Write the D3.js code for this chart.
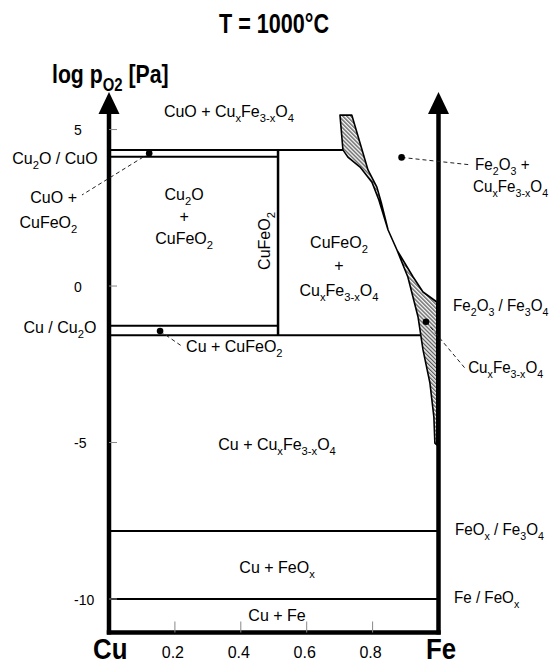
<!DOCTYPE html>
<html><head><meta charset="utf-8">
<script src="https://cdn.jsdelivr.net/npm/d3@7/dist/d3.min.js"></script>
<style>html,body{margin:0;padding:0;background:#fff;}svg{display:block;font-family:"Liberation Sans",Arial,sans-serif;}</style>
</head><body><div id="chart"></div>
<script>
// ---------- data ----------
const xTicks = [0.2, 0.4, 0.6, 0.8];
const xTickLabels = ["0.2", "0.4", "0.6", "0.8"];
const yTicks = [5, 0, -5, -10];
const yTickLabels = ["5", "0", "-5", "-10"];
const xDomain = [0, 1];
const yDomain = [-11.07, 6.2];
// horizontal phase boundaries: [xStart, xEnd, log pO2]
const boundaries = [
  [0, 0.710, 4.35],   // Cu2O / CuO (upper)
  [0, 0.513, 4.13],   // Cu2O / CuO (lower)
  [0, 0.513, -1.27],  // Cu / Cu2O (upper)
  [0, 0.947, -1.57],  // Cu / Cu2O (lower)
  [0, 1, -7.83],      // FeOx / Fe3O4
  [0, 1, -10.0]       // Fe / FeOx
];
// vertical CuFeO2 line: [x, yFrom, yTo]
const cuFeO2Line = [0.513, 4.35, -1.57];
// spinel solid-solution region outline [x, log pO2]
const spinelX = [0.701,0.737,0.786,0.813,0.826,0.847,0.874,0.923,0.953,0.995,0.995,0.989,0.986,0.974,0.953,0.938,0.907,0.874,0.847,0.819,0.798,0.762,0.725,0.710];
const spinelY = [5.46,5.46,3.71,3.16,2.68,1.79,1.15,0.29,-0.19,-0.51,-5.08,-5.02,-4.19,-3.10,-2.04,-0.99,0.29,1.15,1.79,2.75,3.32,3.80,4.12,4.35];
// marked points and their leader end points
const dotX = [0.122, 0.155, 0.888, 0.962];
const dotY = [4.24, -1.44, 4.11, -1.14];
const leadX = [-0.082, 0.225, 1.099, 1.080];
const leadY = [2.91, -1.95, 3.87, -2.62];
// text annotations [text, x, log pO2, anchor]
const annotations = [
  ["CuO + Cu_{x}Fe_{3-x}O_{4}", 0.364, 5.40, "middle"],
  ["Cu_{2}O / CuO", -0.164, 3.90, "middle"],
  ["CuO +", -0.168, 2.65, "middle"],
  ["CuFeO_{2}", -0.184, 1.85, "middle"],
  ["Cu / Cu_{2}O", -0.149, -1.50, "middle"],
  ["Cu_{2}O", 0.228, 2.75, "middle"],
  ["+", 0.228, 2.04, "middle"],
  ["CuFeO_{2}", 0.228, 1.34, "middle"],
  ["CuFeO_{2}", 0.698, 1.22, "middle"],
  ["+", 0.698, 0.48, "middle"],
  ["Cu_{x}Fe_{3-x}O_{4}", 0.698, -0.32, "middle"],
  ["Cu + CuFeO_{2}", 0.234, -2.11, "start"],
  ["Cu + Cu_{x}Fe_{3-x}O_{4}", 0.51, -5.24, "middle"],
  ["Cu + FeO_{x}", 0.51, -9.17, "middle"],
  ["Cu + Fe", 0.51, -10.69, "middle"]
];
// labels in the right margin (narrower set) [text, x, log pO2]
const sideAnnotations = [
  ["Fe_{2}O_{3} +", 1.111, 3.71],
  ["Cu_{x}Fe_{3-x}O_{4}", 1.105, 3.00],
  ["Fe_{2}O_{3} / Fe_{3}O_{4}", 1.044, -0.80],
  ["Cu_{x}Fe_{3-x}O_{4}", 1.09, -2.78],
  ["FeO_{x} / Fe_{3}O_{4}", 1.05, -7.96],
  ["Fe / FeO_{x}", 1.047, -10.13]
];
const verticalLabel = ["CuFeO_{2}", 0.489, 1.44];

// ---------- drawing ----------
const W = 552, H = 666;
const svg = d3.select("#chart").append("svg").attr("width", W).attr("height", H);
const x = d3.scaleLinear().domain(xDomain).range([109, 438.5]);
const y = d3.scaleLinear().domain(yDomain).range([632.5, 92]);

const defs = svg.append("defs");
const pat = defs.append("pattern").attr("id", "hatch").attr("patternUnits", "userSpaceOnUse")
  .attr("width", 2.8).attr("height", 2.8).attr("patternTransform", "rotate(-45)");
pat.append("rect").attr("width", 2.8).attr("height", 2.8).attr("fill", "#f4f4f4");
pat.append("line").attr("x1", 0.7).attr("y1", 0).attr("x2", 0.7).attr("y2", 2.8).attr("stroke", "#333").attr("stroke-width", 1);

function label(parent, text, px, py, opts) {
  const o = Object.assign({size: 16, anchor: "middle", weight: "normal", sx: 1, rot: 0}, opts || {});
  const t = parent.append("text")
    .attr("transform", `translate(${px},${py}) rotate(${o.rot}) scale(${o.sx},1)`)
    .attr("text-anchor", o.anchor).attr("font-size", o.size).attr("font-weight", o.weight).attr("fill", "#000");
  const re = /_\{([^}]*)\}/g;
  let last = 0, m, cur = 0;
  const shift = 0.3 * o.size;
  while ((m = re.exec(text)) !== null) {
    if (m.index > last) { t.append("tspan").attr("dy", -cur).text(text.slice(last, m.index)); cur = 0; }
    t.append("tspan").attr("dy", shift - cur).attr("font-size", 0.7 * o.size).text(m[1]);
    cur = shift;
    last = re.lastIndex;
  }
  if (last < text.length) t.append("tspan").attr("dy", -cur).text(text.slice(last));
  return t;
}

// hatched spinel region
const spinelPts = spinelX.map((v, i) => [x(v), y(spinelY[i])]);
svg.append("path").attr("d", d3.line()(spinelPts) + "Z")
  .attr("fill", "url(#hatch)").attr("stroke", "#000").attr("stroke-width", 1.6).attr("stroke-linejoin", "round");

// boundaries
svg.append("g").selectAll("line").data(boundaries).join("line")
  .attr("x1", d => x(d[0])).attr("x2", d => x(d[1]))
  .attr("y1", d => y(d[2])).attr("y2", d => y(d[2]))
  .attr("stroke", "#000").attr("stroke-width", 2);
svg.append("line").attr("x1", x(cuFeO2Line[0])).attr("x2", x(cuFeO2Line[0]))
  .attr("y1", y(cuFeO2Line[1])).attr("y2", y(cuFeO2Line[2]))
  .attr("stroke", "#000").attr("stroke-width", 2.5);

// axes
const yBottom = y(yDomain[0]);
const yTop = y(yDomain[1]);
svg.append("line").attr("x1", x(0)).attr("x2", x(0)).attr("y1", yBottom + 2).attr("y2", yTop + 18)
  .attr("stroke", "#000").attr("stroke-width", 4.5);
svg.append("line").attr("x1", x(1)).attr("x2", x(1)).attr("y1", yBottom + 2).attr("y2", yTop + 18)
  .attr("stroke", "#000").attr("stroke-width", 4.5);
svg.append("line").attr("x1", x(0) - 2.2).attr("x2", x(1) + 2.2).attr("y1", yBottom).attr("y2", yBottom)
  .attr("stroke", "#000").attr("stroke-width", 4.5);
[0, 1].forEach(v => {
  const cx = x(v);
  svg.append("path").attr("d", `M${cx},${yTop}L${cx - 10.5},${yTop + 22}L${cx + 10.5},${yTop + 22}Z`).attr("fill", "#000");
});

// y ticks
svg.append("g").selectAll("line").data(yTicks).join("line")
  .attr("x1", x(0)).attr("x2", x(0) + 8).attr("y1", d => y(d)).attr("y2", d => y(d))
  .attr("stroke", "#888").attr("stroke-width", 1);
yTicks.forEach((v, i) => label(svg, yTickLabels[i], 74, y(v) + 5.5, {size: 14, anchor: "start"}));
// x ticks
svg.append("g").selectAll("line").data(xTicks).join("line")
  .attr("x1", d => x(d)).attr("x2", d => x(d)).attr("y1", yBottom - 11).attr("y2", yBottom)
  .attr("stroke", "#888").attr("stroke-width", 1);
xTicks.forEach((v, i) => label(svg, xTickLabels[i], x(v) - 2, 658, {size: 16}));

// dots and leaders
svg.append("g").selectAll("line").data(dotX).join("line")
  .attr("x1", (d, i) => x(d)).attr("y1", (d, i) => y(dotY[i]))
  .attr("x2", (d, i) => x(leadX[i])).attr("y2", (d, i) => y(leadY[i]))
  .attr("stroke", "#222").attr("stroke-width", 1).attr("stroke-dasharray", "4,3");
svg.append("g").selectAll("circle").data(dotX).join("circle")
  .attr("cx", d => x(d)).attr("cy", (d, i) => y(dotY[i])).attr("r", 3.3).attr("fill", "#000");

// annotations
annotations.forEach(a => label(svg, a[0], x(a[1]), y(a[2]), {size: 16, anchor: a[3]}));
sideAnnotations.forEach(a => label(svg, a[0], x(a[1]), y(a[2]), {size: 16, anchor: "start", sx: 0.95}));
label(svg, verticalLabel[0], x(verticalLabel[1]), y(verticalLabel[2]), {size: 16, rot: -90});

// titles
label(svg, "T = 1000°C", 274, 33, {size: 27, weight: "bold", sx: 0.8});
label(svg, "log p_{O2} [Pa]", 52, 83, {size: 25, weight: "bold", sx: 0.85, anchor: "start"});
label(svg, "Cu", 93, 659, {size: 30, weight: "bold", sx: 0.86, anchor: "start"});
label(svg, "Fe", 426, 659, {size: 30, weight: "bold", sx: 0.86, anchor: "start"});
</script></body></html>
